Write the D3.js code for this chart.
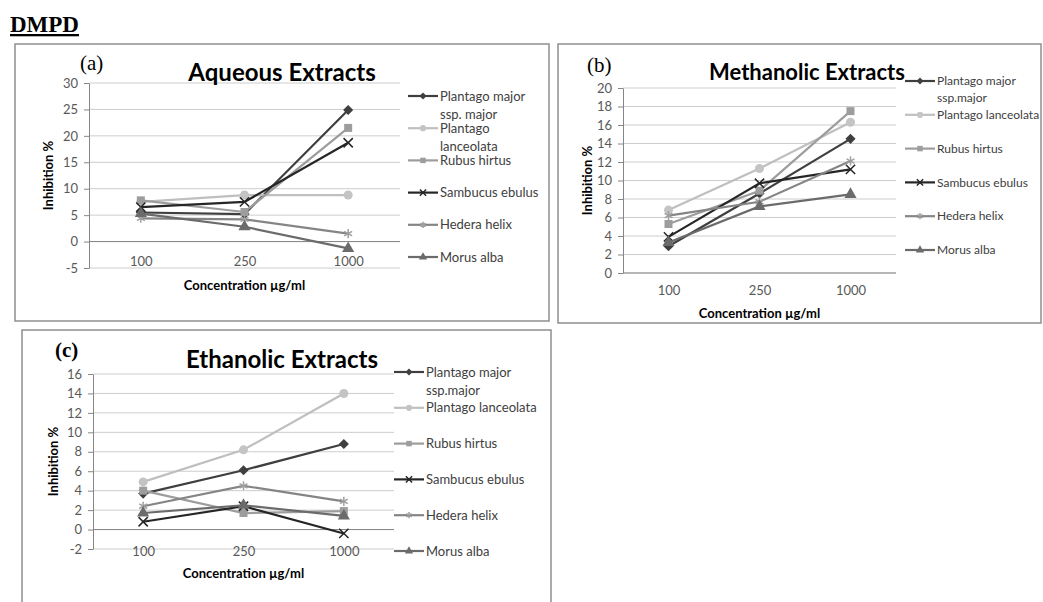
<!DOCTYPE html>
<meta charset="utf-8">

<style>
body { margin: 0; background: #fff; }
svg text { font-family: Lato, "Open Sans", sans-serif; }
.tick text { font-size: 13px; fill: #595959; }
.tick line, .domain { stroke: #868686; }
.chart-title { font-weight: bold; fill: #000; }
.axis-title { font-weight: bold; font-size: 13px; fill: #000; }
.legend-text { fill: #404040; }
.panel-tag { font-family: "Liberation Serif", "Times New Roman", serif !important; fill: #000; }
</style>

<svg class="chart" width="1043" height="602"></svg>

<script src="https://d3js.org/d3.v7.min.js"></script>

<script>

// categories on the x axis
var concentrations = ["100", "250", "1000"];

// series order: Plantago major, Plantago lanceolata, Rubus hirtus,
// Sambucus ebulus, Hedera helix, Morus alba
var aqueousValues = [
  [5.5, 5.2, 24.9],
  [7.5, 8.8, 8.8],
  [7.8, 5.6, 21.5],
  [6.5, 7.5, 18.7],
  [4.4, 4.2, 1.5],
  [5.3, 2.8, -1.3]
];
var methanolicValues = [
  [2.9, 8.6, 14.5],
  [6.8, 11.3, 16.3],
  [5.3, 8.9, 17.5],
  [3.9, 9.7, 11.2],
  [6.2, 7.7, 12.1],
  [3.3, 7.2, 8.5]
];
var ethanolicValues = [
  [3.7, 6.1, 8.8],
  [4.9, 8.2, 14.0],
  [4.0, 1.7, 1.9],
  [0.8, 2.4, -0.4],
  [2.4, 4.5, 2.9],
  [1.7, 2.5, 1.4]
];

// legend labels (line breaks as in the picture)
var aqueousLegend = [["Plantago major", "ssp. major"], ["Plantago", "lanceolata"],
  ["Rubus hirtus"], ["Sambucus ebulus"], ["Hedera helix"], ["Morus alba"]];
var otherLegend = [["Plantago major", "ssp.major"], ["Plantago lanceolata"],
  ["Rubus hirtus"], ["Sambucus ebulus"], ["Hedera helix"], ["Morus alba"]];

// y tick labels
var aqueousTicks = [-5, 0, 5, 10, 15, 20, 25, 30];
var methanolicTicks = [0, 2, 4, 6, 8, 10, 12, 14, 16, 18, 20];
var ethanolicTicks = [-2, 0, 2, 4, 6, 8, 10, 12, 14, 16];

// styles per series
var seriesColors = ["#3f3f3f", "#bfbfbf", "#9d9d9d", "#262626", "#858585", "#6b6b6b"];
var markerColors = ["#3f3f3f", "#c4c4c4", "#9d9d9d", "#262626", "#a0a0a0", "#6b6b6b"];
var seriesShapes = ["diamond", "circle", "square", "times", "asterisk", "triangle"];

var svg = d3.select("svg.chart");

svg.append("text")
  .attr("class", "panel-tag")
  .attr("x", 10).attr("y", 32)
  .style("font-size", "23px").style("font-weight", "bold")
  .style("text-decoration", "underline")
  .text("DMPD");

function symbolFor(shape) {
  return {
    diamond: d3.symbolSquare, circle: d3.symbolCircle, square: d3.symbolSquare,
    times: d3.symbolTimes, asterisk: d3.symbolAsterisk, triangle: d3.symbolTriangle
  }[shape];
}

function drawMarker(sel, i, size) {
  var shape = seriesShapes[i];
  var stroked = shape == "times" || shape == "asterisk";
  var s = size;
  if (stroked) s = size * 0.9;
  if (shape == "diamond") s = size * 0.8;
  sel.attr("d", d3.symbol().type(symbolFor(shape)).size(s))
    .attr("fill", stroked ? "none" : markerColors[i])
    .attr("stroke", stroked ? markerColors[i] : "none")
    .attr("stroke-width", 1.5);
}

function placeMarker(i, px, py) {
  return `translate(${px},${py})` + (seriesShapes[i] == "diamond" ? " rotate(45)" : "");
}

function drawPanel(p) {
  var g = svg.append("g");

  g.append("rect")
    .attr("x", p.box[0]).attr("y", p.box[1])
    .attr("width", p.box[2]).attr("height", p.box[3])
    .attr("fill", "none").attr("stroke", "#8f8f8f").attr("stroke-width", 1.5);

  var x = d3.scalePoint().domain(concentrations).range([p.x0, p.x1]).padding(0.5);
  var y = d3.scaleLinear().domain([p.ticks[0], p.ticks[p.ticks.length - 1]]).range([p.yBottom, p.yTop]);

  // gridlines
  g.selectAll("line.grid")
    .data(p.ticks)
    .enter().append("line")
      .attr("class", "grid")
      .attr("x1", p.x0).attr("x2", p.x1)
      .attr("y1", function(d) { return y(d); })
      .attr("y2", function(d) { return y(d); })
      .attr("stroke", "#cdcdcd").attr("stroke-width", 1);

  // y axis
  g.append("g")
    .attr("transform", `translate(${p.x0},0)`)
    .call(d3.axisLeft(y).tickValues(p.ticks).tickSize(5).tickSizeOuter(0).tickPadding(6)
      .tickFormat(function(d) { return String(d); }));

  // category axis sits on the zero line
  var xg = g.append("g")
    .attr("transform", `translate(0,${y(0)})`)
    .call(d3.axisBottom(x).tickSize(0).tickSizeOuter(0).tickPadding(p.xLabelY - y(0) - 5));
  xg.select(".domain").attr("d", `M${p.x0},0H${p.x1}`);

  g.append("text")
    .attr("class", "axis-title")
    .attr("x", (p.x0 + p.x1) / 2).attr("y", p.xTitleY)
    .attr("text-anchor", "middle").attr("dy", "0.35em")
    .text("Concentration µg/ml");

  g.append("text")
    .attr("class", "axis-title")
    .attr("transform", `translate(${p.yTitleX},${(p.yTop + p.yBottom) / 2}) rotate(-90)`)
    .attr("text-anchor", "middle").attr("dy", "0.35em")
    .text("Inhibition %");

  g.append("text")
    .attr("class", "chart-title")
    .attr("x", p.titleX).attr("y", p.titleY)
    .attr("text-anchor", "middle").attr("dy", "0.35em")
    .style("font-size", p.titleFont + "px")
    .text(p.title);

  g.append("text")
    .attr("class", "panel-tag")
    .attr("x", p.tagX).attr("y", p.tagY).attr("dy", "0.35em")
    .style("font-size", "21px").style("font-weight", p.tagBold ? "bold" : "normal")
    .text(p.tag);

  // series
  var line = d3.line()
    .x(function(d, i) { return x(concentrations[i]); })
    .y(function(d) { return y(d); });

  p.values.forEach(function(vals, i) {
    g.append("path")
      .attr("d", line(vals))
      .attr("fill", "none")
      .attr("stroke", seriesColors[i]).attr("stroke-width", 2.2);
    g.selectAll(null)
      .data(vals)
      .enter().append("path")
        .attr("transform", function(d, j) { return placeMarker(i, x(concentrations[j]), y(d)); })
        .call(drawMarker, i, 64);
  });

  // legend
  p.legend.forEach(function(lines, i) {
    var ly = p.legendY + i * p.legendStep;
    g.append("line")
      .attr("x1", p.legendX).attr("x2", p.legendX + 30)
      .attr("y1", ly).attr("y2", ly)
      .attr("stroke", seriesColors[i]).attr("stroke-width", 2.2);
    g.append("path")
      .attr("transform", placeMarker(i, p.legendX + 15, ly))
      .call(drawMarker, i, 30);
    var t = g.append("text")
      .attr("class", "legend-text")
      .attr("x", p.legendX + 32).attr("y", ly)
      .style("font-size", p.legendFont + "px");
    lines.forEach(function(s, k) {
      t.append("tspan").attr("x", p.legendX + 32).attr("dy", k == 0 ? "0.35em" : "1.4em").text(s);
    });
  });
}

drawPanel({
  box: [15, 44, 534, 277], x0: 89, x1: 400, yTop: 83, yBottom: 268,
  ticks: aqueousTicks, values: aqueousValues, legend: aqueousLegend,
  xLabelY: 262, xTitleY: 285, yTitleX: 48,
  title: "Aqueous Extracts", titleX: 282, titleY: 73, titleFont: 24,
  tag: "(a)", tagX: 80, tagY: 63, tagBold: false,
  legendX: 408, legendY: 96, legendStep: 32.2, legendFont: 13
});

drawPanel({
  box: [558, 44, 483, 279], x0: 623, x1: 896, yTop: 88, yBottom: 273,
  ticks: methanolicTicks, values: methanolicValues, legend: otherLegend,
  xLabelY: 291, xTitleY: 313, yTitleX: 587,
  title: "Methanolic Extracts", titleX: 807, titleY: 72, titleFont: 22,
  tag: "(b)", tagX: 587, tagY: 65, tagBold: false,
  legendX: 905, legendY: 81, legendStep: 33.8, legendFont: 12
});

drawPanel({
  box: [22, 330, 529, 290], x0: 93, x1: 394, yTop: 374, yBottom: 549,
  ticks: ethanolicTicks, values: ethanolicValues, legend: otherLegend,
  xLabelY: 552, xTitleY: 573, yTitleX: 53,
  title: "Ethanolic Extracts", titleX: 282, titleY: 360, titleFont: 24,
  tag: "(c)", tagX: 55, tagY: 350, tagBold: true,
  legendX: 394, legendY: 372, legendStep: 35.8, legendFont: 13
});

</script>
